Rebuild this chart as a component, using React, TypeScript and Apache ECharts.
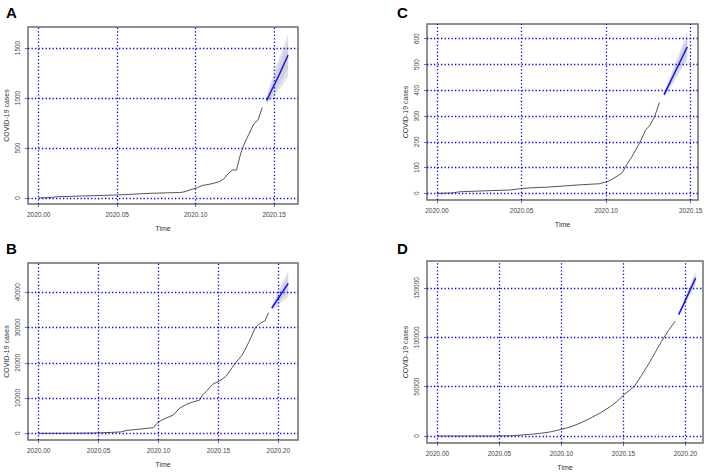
import React, { useEffect, useRef } from "react";
import * as echarts from "echarts";

// ---------- data (day index from 2020.00, daily series, frequency 365) ----------
const A_days = [0, 3, 4, 10, 18, 22, 26, 30, 33, 34, 36, 37, 38, 40, 42, 43, 44, 45, 46, 47, 48, 49, 50, 51, 52];
const A_vals = [0, 5, 12, 20, 30, 38, 47, 52, 55, 63, 92, 105, 125, 140, 163, 190, 240, 280, 280, 450, 560, 650, 740, 780, 905];
const A_fdays = [53, 54, 55, 56, 57, 58];
const A_mean = [975, 1065, 1150, 1240, 1335, 1430];
const A_hi95 = [1005, 1160, 1290, 1410, 1525, 1640];
const A_lo95 = [945, 980, 1030, 1090, 1150, 1215];
const A_hi80 = [995, 1127, 1241, 1344, 1459, 1567];
const A_lo80 = [955, 1010, 1072, 1139, 1215, 1290];

const C_days = [0, 3, 5, 8, 11, 16, 18, 20, 24, 27, 31, 35, 37, 38, 39, 40, 41, 42, 43, 44, 45, 46, 47, 48];
const C_vals = [0, 1, 6, 8, 10, 13, 18, 21, 24, 28, 33, 37, 47, 57, 68, 80, 113, 140, 172, 205, 245, 265, 300, 352];
const C_fdays = [49, 50, 51, 52, 53, 54];
const C_mean = [383, 420, 457, 494, 531, 568];
const C_hi95 = [393, 440, 487, 532, 578, 627];
const C_lo95 = [373, 400, 428, 458, 487, 512];
const C_hi80 = [390, 433, 477, 519, 562, 606];
const C_lo80 = [377, 407, 438, 471, 502, 532];

const B_days = [0, 10, 18, 22, 25, 27, 30, 33, 35, 36, 37, 39, 41, 43, 45, 47, 49, 50, 51, 53, 55, 57, 59, 60, 62, 64, 66, 67, 69, 70];
const B_vals = [0, 20, 100, 250, 380, 850, 1100, 1400, 1600, 2800, 3500, 4400, 5180, 7200, 8200, 8900, 9400, 11000, 11800, 13900, 14800, 16100, 18700, 20000, 22200, 25800, 30000, 30900, 32000, 34200];
const B_fdays = [71, 72, 73, 74, 75, 76];
const B_mean = [35500, 36900, 38300, 39700, 41100, 42500];
const B_hi95 = [36300, 38400, 40300, 42200, 44100, 46000];
const B_lo95 = [34700, 35400, 36300, 37200, 37900, 38700];
const B_hi80 = [36020, 37875, 39600, 41325, 43050, 44775];
const B_lo80 = [34980, 35925, 37000, 38075, 39020, 40030];

const D_days = [0, 15, 22, 27, 30, 33, 36, 39, 42, 45, 48, 51, 53, 55, 57, 58, 60, 62, 64, 66, 68, 70];
const D_vals = [0, 0, 300, 1600, 2600, 4000, 6300, 9000, 13000, 18000, 23500, 30000, 35500, 42000, 47500, 50500, 61000, 72000, 84000, 96000, 106700, 116300];
const D_fdays = [71, 72, 73, 74, 75, 76];
const D_mean = [123000, 130000, 137500, 145000, 152500, 160000];
const D_hi95 = [124500, 132500, 141000, 149500, 158000, 167000];
const D_lo95 = [121500, 127500, 134000, 140500, 147000, 153000];
const D_hi80 = [123975, 131625, 139775, 147925, 156075, 164550];
const D_lo80 = [122025, 128375, 135225, 142075, 148925, 155450];

const X_TICKS_A = [2020.0, 2020.05, 2020.1, 2020.15];
const X_TICKS_B = [2020.0, 2020.05, 2020.1, 2020.15, 2020.2];
const Y_TICKS_A = [0, 500, 1000, 1500];
const Y_TICKS_C = [0, 100, 200, 300, 400, 500, 600];
const Y_TICKS_B = [0, 10000, 20000, 30000, 40000];
const Y_TICKS_D = [0, 50000, 100000, 150000];

const FONT = "'Liberation Sans', Arial, sans-serif";
const toT = (d: number) => 2020 + d / 365;

const panels = [
  {
    label: "A", days: A_days, vals: A_vals, fdays: A_fdays, mean: A_mean, hi95: A_hi95, lo95: A_lo95, hi80: A_hi80, lo80: A_lo80,
    xt: X_TICKS_A, yt: Y_TICKS_A,
    grid: { left: 28, top: 27, width: 270, height: 177 },
    xmin: 2019.9932, xmax: 2020.1652, ymin: -60, ymax: 1710,
    letter: [6, 5],
  },
  {
    label: "C", days: C_days, vals: C_vals, fdays: C_fdays, mean: C_mean, hi95: C_hi95, lo95: C_lo95, hi80: C_hi80, lo80: C_lo80,
    xt: X_TICKS_A, yt: Y_TICKS_C,
    grid: { left: 427, top: 24, width: 271, height: 176 },
    xmin: 2019.9941, xmax: 2020.1543, ymin: -26, ymax: 657,
    letter: [397, 5],
  },
  {
    label: "B", days: B_days, vals: B_vals, fdays: B_fdays, mean: B_mean, hi95: B_hi95, lo95: B_lo95, hi80: B_hi80, lo80: B_lo80,
    xt: X_TICKS_B, yt: Y_TICKS_B,
    grid: { left: 28, top: 263, width: 270, height: 177 },
    xmin: 2019.9911, xmax: 2020.2164, ymin: -1900, ymax: 48290,
    letter: [6, 241],
  },
  {
    label: "D", days: D_days, vals: D_vals, fdays: D_fdays, mean: D_mean, hi95: D_hi95, lo95: D_lo95, hi80: D_hi80, lo80: D_lo80,
    xt: X_TICKS_B, yt: Y_TICKS_D,
    grid: { left: 427, top: 261, width: 276, height: 182 },
    xmin: 2019.9916, xmax: 2020.2142, ymin: -7080, ymax: 177300,
    letter: [397, 241],
  },
];

const BOX = "#6e6e6e";

function bandSeries(i: number, fx: number[], lo: number[], hi: number[], color: string, z: number) {
  return {
    type: "custom",
    xAxisIndex: i,
    yAxisIndex: i,
    silent: true,
    z,
    data: fx.map((x, k) => [x, lo[k], hi[k]]),
    encode: { x: 0, y: [1, 2] },
    renderItem: (params: any, api: any) => {
      if (params.dataIndex !== 0) return null;
      const pts: number[][] = [];
      for (let k = 0; k < fx.length; k++) pts.push(api.coord([fx[k], hi[k]]));
      for (let k = fx.length - 1; k >= 0; k--) pts.push(api.coord([fx[k], lo[k]]));
      return { type: "polygon", shape: { points: pts }, style: { fill: color, stroke: "none" } };
    },
  };
}

function buildOption() {
  const grid: any[] = [];
  const xAxis: any[] = [];
  const yAxis: any[] = [];
  const series: any[] = [];
  const graphic: any[] = [];

  panels.forEach((p, i) => {
    grid.push({ ...p.grid, show: true, borderColor: BOX, borderWidth: 1.5, backgroundColor: "transparent" });
    xAxis.push({
      type: "value",
      gridIndex: i,
      min: p.xmin,
      max: p.xmax,
      position: "bottom",
      axisLine: { show: false, onZero: false },
      axisTick: { show: true, length: 3, customValues: p.xt, lineStyle: { color: BOX } },
      axisLabel: {
        customValues: p.xt,
        formatter: (v: number) => v.toFixed(2),
        fontSize: 6.5,
        color: "#444",
        margin: 7,
        fontFamily: FONT,
        showMinLabel: true,
        showMaxLabel: true,
      },
      splitLine: { show: false },
      name: "Time",
      nameLocation: "middle",
      nameGap: 21,
      nameTextStyle: { fontSize: 7, color: "#333", fontFamily: FONT },
    });
    yAxis.push({
      type: "value",
      gridIndex: i,
      min: p.ymin,
      max: p.ymax,
      position: "left",
      axisLine: { show: false, onZero: false },
      axisTick: { show: true, length: 3, customValues: p.yt, lineStyle: { color: BOX } },
      axisLabel: {
        customValues: p.yt,
        formatter: (v: number) => String(v),
        rotate: 90,
        fontSize: 6.5,
        color: "#444",
        margin: 7,
        fontFamily: FONT,
        showMinLabel: true,
        showMaxLabel: true,
      },
      splitLine: { show: false },
      name: "COVID-19 cases",
      nameLocation: "middle",
      nameGap: 18,
      nameTextStyle: { fontSize: 7, color: "#333", fontFamily: FONT },
    });

    const fx = p.fdays.map(toT);
    series.push(bandSeries(i, fx, p.lo95, p.hi95, "#e3e3e6", 1));
    series.push(bandSeries(i, fx, p.lo80, p.hi80, "#d2d2d6", 2));
    series.push({
      type: "line", xAxisIndex: i, yAxisIndex: i,
      data: p.days.map((d, k) => [toT(d), p.vals[k]]),
      showSymbol: false,
      lineStyle: { color: "#555555", width: 1 },
      z: 3,
    });
    series.push({
      type: "line", xAxisIndex: i, yAxisIndex: i,
      data: fx.map((x, k) => [x, p.mean[k]]),
      showSymbol: false,
      lineStyle: { color: "#1010ff", width: 1.5 },
      z: 4,
    });
    series.push({
      type: "line", xAxisIndex: i, yAxisIndex: i,
      data: [],
      z: 5,
      markLine: {
        silent: true,
        symbol: ["none", "none"],
        label: { show: false },
        lineStyle: { color: "#0000ff", type: [1.3, 2.2], width: 1.3 },
        data: [
          ...p.xt.map((v) => ({ xAxis: v })),
          ...p.yt.map((v) => ({ yAxis: v })),
        ],
      },
    });

    graphic.push({
      type: "text",
      left: p.letter[0],
      top: p.letter[1],
      style: { text: p.label, fontSize: 15, fontWeight: "bold", fill: "#000", fontFamily: FONT },
    });
  });

  return { animation: false, grid, xAxis, yAxis, series, graphic };
}

export default function App() {
  const ref = useRef<HTMLDivElement>(null);
  useEffect(() => {
    if (!ref.current) return;
    const chart = echarts.init(ref.current, undefined, { renderer: "svg" });
    chart.setOption(buildOption() as any);
    return () => chart.dispose();
  }, []);
  return (
    <div
      ref={ref}
      style={{ position: "fixed", left: 0, top: 0, width: 708, height: 473, background: "#fff" }}
    />
  );
}
